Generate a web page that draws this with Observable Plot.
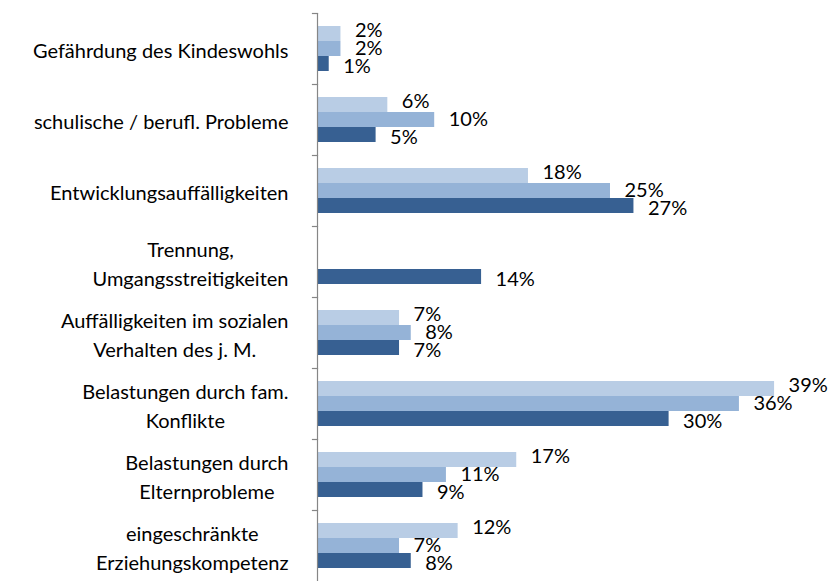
<!DOCTYPE html>
<html>
<head>
<meta charset="utf-8">
<script src="https://cdn.jsdelivr.net/npm/d3@7"></script>
<script src="https://cdn.jsdelivr.net/npm/@observablehq/plot@0.6"></script>
<style>
  html, body { margin: 0; padding: 0; background: #fff; }
</style>
</head>
<body>
<div id="chart"></div>
<script>
// Categories (top to bottom), "\n" marks line breaks of the axis labels
const categories = [
  "Gefährdung des Kindeswohls",
  "schulische / berufl. Probleme",
  "Entwicklungsauffälligkeiten",
  "Trennung,\nUmgangsstreitigkeiten",
  "Auffälligkeiten im sozialen\nVerhalten des j. M.",
  "Belastungen durch fam.\nKonflikte",
  "Belastungen durch\nElternprobleme",
  "eingeschränkte\nErziehungskompetenz"
];
// Three series (no legend in the original), values in percent
const seriesNames = ["Reihe 1", "Reihe 2", "Reihe 3"];
const series1 = [2, 6, 18, null, 7, 39, 17, 12];
const series2 = [2, 10, 25, null, 8, 36, 11, 7];
const series3 = [1, 5, 27, 14, 7, 30, 9, 8];
const colors = ["#B9CDE5", "#95B3D7", "#376092"];

const allSeries = [series1, series2, series3];
const data = [];
categories.forEach((c, i) => {
  allSeries.forEach((s, j) => {
    if (s[i] != null) data.push({category: c, series: seriesNames[j], idx: j, value: s[i]});
  });
});

const family = "Lato, 'Open Sans', sans-serif";
const fontSize = 20;

const W = 838, H = 583, ML = 317;
const pxPerUnit = 11.72;
const xMax = (W - ML) / pxPerUnit;

// small vertical spread of the value labels so they do not collide
const labelShift = [-3, 0, 3];
const labelMarks = labelShift.map((dy, j) =>
  Plot.text(data.filter(d => d.idx === j), {
    x: "value", y: "series", fy: "category",
    text: d => d.value + "%",
    dx: 14, dy, textAnchor: "start", fontSize, fill: "#000"
  })
);

const plot = Plot.plot({
  width: W,
  height: H,
  marginLeft: ML,
  marginRight: 0,
  marginTop: 11,
  marginBottom: 0,
  style: {fontFamily: family, fontSize: fontSize + "px", color: "#000", background: "#fff"},
  x: {domain: [0, xMax], axis: null},
  y: {domain: seriesNames, paddingInner: 0, paddingOuter: 0.76, axis: null},
  fy: {domain: categories, padding: 0, label: null},
  color: {domain: seriesNames, range: colors},
  marks: [
    Plot.barX(data, {x: "value", y: "series", fy: "category", fill: "series"}),
    Plot.ruleX([0], {stroke: "#868686", strokeWidth: 1.2}),
    Plot.frame({anchor: "top", stroke: "#868686", strokeWidth: 1.2, insetLeft: -5, insetRight: W - ML}),
    ...labelMarks,
    Plot.axisFy({
      anchor: "left", tickSize: 0, tickPadding: 29, label: null,
      fontSize, lineHeight: 29 / fontSize, fill: "#000"
    })
  ]
});

document.getElementById("chart").appendChild(plot);

// center the lines of each (possibly multi-line) category label within its right-aligned block
plot.querySelectorAll('g[aria-label="fy-axis tick label"] text').forEach(t => {
  const w = t.getBBox().width;
  t.setAttribute("text-anchor", "middle");
  const tr = t.getAttribute("transform") || "";
  t.setAttribute("transform", tr + ` translate(${-w / 2},0)`);
});
</script>
</body>
</html>
